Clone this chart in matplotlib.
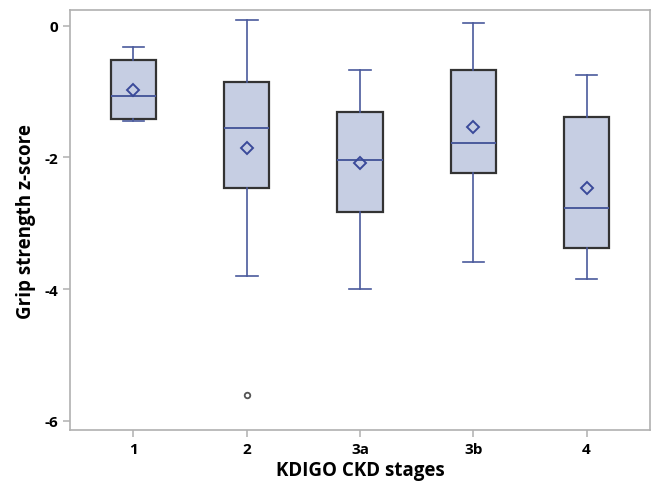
import matplotlib
matplotlib.use("Agg")
import matplotlib.pyplot as plt

categories = ["1", "2", "3a", "3b", "4"]
whisker_low = [-1.45, -3.80, -4.00, -3.59, -3.84]
q1 = [-1.42, -2.47, -2.83, -2.23, -3.38]
medians = [-1.065, -1.56, -2.04, -1.78, -2.77]
q3 = [-0.52, -0.86, -1.31, -0.675, -1.39]
whisker_high = [-0.32, 0.088, -0.675, 0.033, -0.756]
means = [-0.97, -1.86, -2.09, -1.545, -2.47]
outliers = [[], [-5.61], [], [], []]
yticks = [0, -2, -4, -6]

plt.rcParams['font.family'] = ['Open Sans', 'DejaVu Sans']

fig = plt.figure(figsize=(6.52, 4.85), dpi=100)
ax = fig.add_axes([0.1074, 0.1113, 0.8896, 0.8657])

stats = []
for i, c in enumerate(categories):
    stats.append(dict(label=c, whislo=whisker_low[i], q1=q1[i], med=medians[i],
                      q3=q3[i], whishi=whisker_high[i], mean=means[i], fliers=outliers[i]))

line_blue = "#4a5a9c"
ax.bxp(stats, positions=range(len(categories)), widths=0.4, patch_artist=True,
       showmeans=True, capwidths=0.19,
       boxprops=dict(facecolor="#c6cee3", edgecolor="#333333", linewidth=1.6),
       whiskerprops=dict(color=line_blue, linewidth=1.2),
       capprops=dict(color=line_blue, linewidth=1.2),
       medianprops=dict(color=line_blue, linewidth=1.4),
       meanprops=dict(marker="D", markerfacecolor="none", markeredgecolor="#3a4a9a",
                      markersize=6, markeredgewidth=1.4),
       flierprops=dict(marker="o", markerfacecolor="none", markeredgecolor="#555555",
                       markersize=4, markeredgewidth=1.3))

ax.set_xlim(-0.56, 4.56)
ax.set_ylim(-6.14, 0.235)
ax.set_yticks(yticks)
ax.set_yticklabels([str(t) if t == 0 else "-" + str(abs(t)) for t in yticks])
ax.set_xticks(range(len(categories)))
ax.set_xticklabels(categories)

for s in ax.spines.values():
    s.set_color("#b0b0b0")
    s.set_linewidth(1.2)
ax.tick_params(axis="both", colors="#b0b0b0", labelcolor="black", length=5, width=1.1, labelsize=11)
for lab in ax.get_xticklabels() + ax.get_yticklabels():
    lab.set_fontweight("bold")

ax.set_xlabel("KDIGO CKD stages", fontsize=13.5, fontweight="bold", labelpad=3)
ax.set_ylabel("Grip strength z-score", fontsize=13.5, fontweight="bold", labelpad=6)

fig.savefig("out.png", dpi=100)
